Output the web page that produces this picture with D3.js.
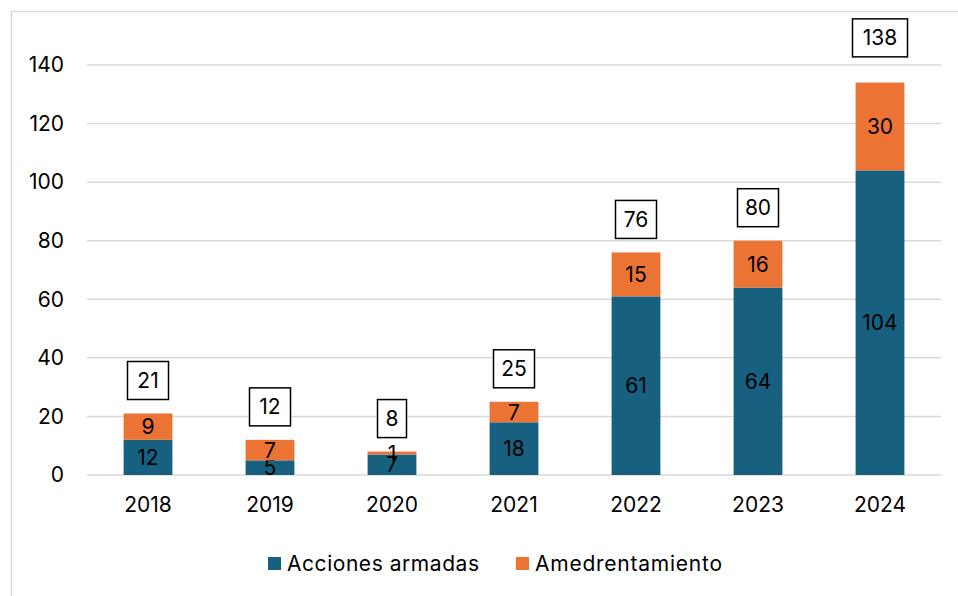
<!DOCTYPE html>
<html><head><meta charset="utf-8">
<script src="https://cdn.jsdelivr.net/npm/d3@7"></script>
<style>body{margin:0;background:#fff}svg{display:block}text{font-family:Inter,"Open Sans",sans-serif;fill:#000}</style>
</head><body><svg id="c" width="958" height="596"></svg>
<script>
const years = ["2018","2019","2020","2021","2022","2023","2024"];
const acciones = [12,5,7,18,61,64,104];
const amedrentamiento = [9,7,1,7,15,16,30];
const totals = [21,12,8,25,76,80,138];
const yTicks = [0,20,40,60,80,100,120,140];
const seriesNames = ["Acciones armadas","Amedrentamiento"];
const colors = ["#17607f","#eb7334"];
const FS = 21;

const svg = d3.select("#c");
svg.append("rect").attr("x",11.5).attr("y",11.5).attr("width",960).attr("height",600)
  .attr("fill","none").attr("stroke","#d9d9d9").attr("stroke-width",1.5);

const x = d3.scaleBand().domain(years).range([87,941]).paddingInner(0.6).paddingOuter(0.3);
const y = d3.scaleLinear().domain([0,140]).range([475,65]);

const g = svg.append("g");
g.selectAll("line.grid").data(yTicks).join("line")
  .attr("x1",87).attr("x2",941).attr("y1",d=>y(d)).attr("y2",d=>y(d))
  .attr("stroke","#d9d9d9").attr("stroke-width",1.5);
g.selectAll("text.yt").data(yTicks).join("text")
  .attr("x",64).attr("y",d=>y(d)).attr("dy","0.35em").attr("text-anchor","end")
  .attr("font-size",FS).text(d=>d);

const data = years.map((yr,i)=>({year:yr,a:acciones[i],b:amedrentamiento[i],t:totals[i]}));
const stack = d3.stack().keys(["a","b"])(data);
stack.forEach((s,si)=>{
  g.selectAll(null).data(s).join("rect")
    .attr("x",d=>x(d.data.year)).attr("width",x.bandwidth())
    .attr("y",d=>y(d[1])).attr("height",d=>y(d[0])-y(d[1]))
    .attr("fill",colors[si]);
  g.selectAll(null).data(s).join("text")
    .attr("x",d=>x(d.data.year)+x.bandwidth()/2)
    .attr("y",d=>(y(d[0])+y(d[1]))/2).attr("dy","0.36em")
    .attr("text-anchor","middle").attr("font-size",FS)
    .text(d=>d[1]-d[0]);
});
g.selectAll("text.xl").data(years).join("text")
  .attr("x",d=>x(d)+x.bandwidth()/2).attr("y",505).attr("dy","0.35em")
  .attr("text-anchor","middle").attr("font-size",FS).text(d=>d);
const tb = g.selectAll("g.tot").data(data).join("g")
  .attr("transform",d=>`translate(${x(d.year)+x.bandwidth()/2},${y(d.t)-33})`);
tb.append("rect").attr("x",d=>d.t>=100?-27.5:(d.t>=10?-20.5:-14.5))
  .attr("width",d=>d.t>=100?55:(d.t>=10?41:29)).attr("y",-19).attr("height",38)
  .attr("fill","#fff").attr("stroke","#000").attr("stroke-width",1.5);
tb.append("text").attr("text-anchor","middle").attr("dy","0.36em").attr("font-size",FS).text(d=>d.t);

const lg = svg.append("g");
const lx = [268,516];
seriesNames.forEach((n,i)=>{
  lg.append("rect").attr("x",lx[i]).attr("y",557).attr("width",13).attr("height",13).attr("fill",colors[i]);
  lg.append("text").attr("x",lx[i]+19).attr("y",563.5).attr("dy","0.36em").attr("font-size",FS).attr("textLength",i===0?192:187).text(n);
});
</script></body></html>
